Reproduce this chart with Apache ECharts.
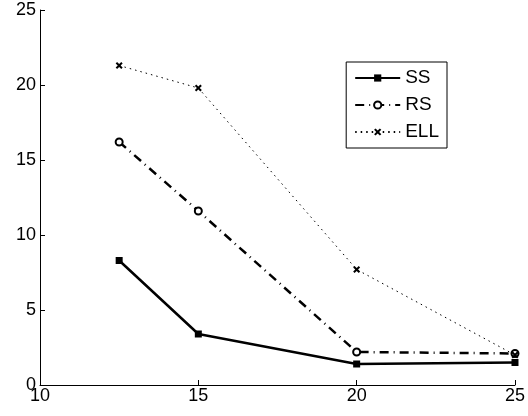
<!DOCTYPE html>
<html><head><meta charset="utf-8">
<script src="https://cdn.jsdelivr.net/npm/echarts@6/dist/echarts.min.js"></script>
<style>html,body{margin:0;padding:0;background:#fff}#c{width:528px;height:416px}</style>
</head><body><div id="c"></div>
<script>
const xValues = [12.5, 15, 20, 25];
const ssValues = [8.3, 3.4, 1.4, 1.5];
const rsValues = [16.2, 11.6, 2.2, 2.1];
const ellValues = [21.3, 19.8, 7.7, 2.0];
const seriesNames = ['SS', 'RS', 'ELL'];
const xTicks = [10, 15, 20, 25];
const yTicks = [0, 5, 10, 15, 20, 25];

const pairs = v => xValues.map((x, i) => [x, v[i]]);
const crossPath = 'path://M2,0 L5,3 L8,0 L10,2 L7,5 L10,8 L8,10 L5,7 L2,10 L0,8 L3,5 L0,2 Z';
const font = 'Liberation Sans, Arial, sans-serif';

const chart = echarts.init(document.getElementById('c'), null, {renderer: 'canvas'});
chart.setOption({
  animation: false,
  backgroundColor: '#fff',
  grid: {left: 40, right: 10, top: 10, bottom: 31, containLabel: false},
  xAxis: {
    type: 'value', min: 10, max: 25, interval: 5,
    axisLine: {lineStyle: {color: '#000', width: 1}},
    axisTick: {inside: true, length: 5, lineStyle: {color: '#000'}},
    splitLine: {show: false},
    axisLabel: {color: '#000', fontSize: 18, fontFamily: font, margin: 2,
      formatter: v => xTicks.includes(v) ? String(v) : ''}
  },
  yAxis: {
    type: 'value', min: 0, max: 25, interval: 5,
    axisLine: {show: true, lineStyle: {color: '#000', width: 1}},
    axisTick: {show: true, inside: true, length: 5, lineStyle: {color: '#000'}},
    splitLine: {show: false},
    axisLabel: {color: '#000', fontSize: 18, fontFamily: font, margin: 4,
      formatter: v => yTicks.includes(v) ? String(v) : ''}
  },
  legend: {
    right: 81, top: 62, orient: 'vertical',
    backgroundColor: '#fff', borderColor: '#000', borderWidth: 1, borderRadius: 0,
    padding: [6, 8, 6, 8], itemGap: 7, itemWidth: 45, itemHeight: 9,
    textStyle: {color: '#000', fontSize: 19, lineHeight: 20, fontFamily: font},
    data: seriesNames
  },
  series: [
    {name: 'SS', type: 'line', data: pairs(ssValues), symbol: 'rect', symbolSize: 7,
      lineStyle: {color: '#000', width: 2.5, type: 'solid'}, itemStyle: {color: '#000'}},
    {name: 'RS', type: 'line', data: pairs(rsValues), symbol: 'emptyCircle', symbolSize: 7,
      lineStyle: {color: '#000', width: 2.5, type: [9, 5, 1, 5]},
      itemStyle: {color: '#000', borderColor: '#000', borderWidth: 2.5}},
    {name: 'ELL', type: 'line', data: pairs(ellValues), symbol: crossPath, symbolSize: 7,
      lineStyle: {color: '#000', width: 1, type: [1.5, 4]}, itemStyle: {color: '#000'}}
  ]
});
</script></body></html>
